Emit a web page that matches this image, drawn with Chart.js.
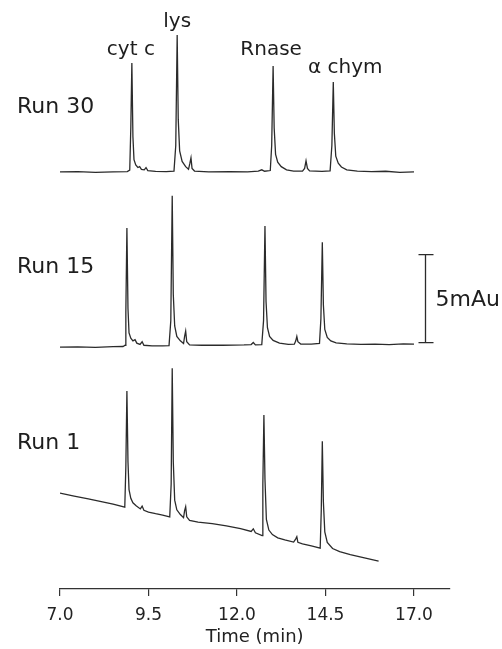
<!DOCTYPE html>
<html><head><meta charset="utf-8">
<script src="https://cdn.jsdelivr.net/npm/chart.js@4/dist/chart.umd.min.js"></script>
<style>html,body{margin:0;padding:0;background:#fff;}canvas{display:block;}</style>
</head><body>
<canvas id="c" width="502" height="649" style="width:502px;height:649px"></canvas>
<script>
// ---- data (time in min, signal in mAu relative to each run's starting baseline) ----
const runNames = ['Run 30', 'Run 15', 'Run 1'];
const runOffsets = [23.7, 13.75, 5.45];   // vertical stacking offsets (mAu)

const run30Points = [
  [7.0,0.0],[7.5,0.02],[8.0,-0.02],[8.5,0.0],[8.9,0.02],[8.97,0.1],[9.0,2.5],[9.03,6.19],[9.06,2.0],[9.09,0.7],
  [9.14,0.4],[9.2,0.25],[9.25,0.3],[9.3,0.15],[9.38,0.12],[9.43,0.25],[9.48,0.08],[9.7,0.03],[10.0,0.02],[10.22,0.05],
  [10.27,1.5],[10.31,7.78],[10.34,3.0],[10.38,1.2],[10.45,0.6],[10.55,0.3],[10.63,0.15],[10.67,0.5],[10.7,0.8],[10.73,0.2],
  [10.8,0.05],[11.2,0.0],[11.8,0.02],[12.3,0.0],[12.6,0.05],[12.7,0.12],[12.78,0.04],[12.94,0.08],[12.98,1.5],[13.02,6.02],
  [13.05,2.5],[13.09,1.0],[13.15,0.55],[13.25,0.3],[13.4,0.12],[13.6,0.05],[13.85,0.05],[13.91,0.2],[13.95,0.63],[13.99,0.2],
  [14.05,0.06],[14.4,0.03],[14.63,0.06],[14.68,1.5],[14.72,5.11],[14.75,2.2],[14.79,0.9],[14.86,0.5],[14.95,0.28],[15.1,0.12],
  [15.4,0.05],[15.8,0.02],[16.2,0.04],[16.6,-0.02],[17.0,0.0]
];
const run15Points = [
  [7.0,0.0],[7.5,0.01],[8.0,-0.02],[8.5,0.02],[8.78,0.03],[8.84,0.1],[8.86,2.0],[8.89,6.76],[8.92,2.2],[8.95,0.8],
  [9.0,0.5],[9.06,0.35],[9.12,0.42],[9.17,0.22],[9.26,0.15],[9.32,0.3],[9.37,0.1],[9.6,0.07],[9.9,0.06],[10.08,0.08],
  [10.13,1.5],[10.17,8.6],[10.2,3.0],[10.24,1.2],[10.3,0.6],[10.4,0.35],[10.49,0.2],[10.52,0.6],[10.55,0.9],[10.58,0.3],
  [10.66,0.12],[11.0,0.1],[11.6,0.1],[12.2,0.12],[12.4,0.14],[12.46,0.26],[12.52,0.12],[12.7,0.14],[12.75,1.5],[12.79,6.87],
  [12.82,2.6],[12.86,1.1],[12.92,0.6],[13.02,0.38],[13.2,0.22],[13.45,0.15],[13.62,0.16],[13.66,0.35],[13.69,0.6],[13.72,0.3],
  [13.8,0.17],[14.1,0.16],[14.33,0.2],[14.37,1.6],[14.41,5.96],[14.44,2.4],[14.48,1.0],[14.55,0.55],[14.65,0.35],[14.8,0.24],
  [15.1,0.18],[15.5,0.15],[15.9,0.17],[16.3,0.14],[16.7,0.18],[17.0,0.17]
];
const run1Points = [
  [7.0,0.0],[7.4,-0.17],[7.8,-0.33],[8.2,-0.5],[8.5,-0.63],[8.83,-0.8],[8.86,1.5],[8.89,5.8],[8.92,1.8],[8.95,0.2],
  [9.0,-0.3],[9.06,-0.55],[9.15,-0.72],[9.27,-0.9],[9.32,-0.74],[9.37,-0.98],[9.5,-1.08],[9.7,-1.17],[9.9,-1.25],[10.1,-1.35],
  [10.14,0.5],[10.17,7.1],[10.2,1.8],[10.24,-0.4],[10.3,-0.95],[10.4,-1.22],[10.49,-1.4],[10.52,-1.0],[10.55,-0.78],[10.58,-1.35],
  [10.66,-1.55],[10.9,-1.65],[11.3,-1.74],[11.7,-1.86],[12.1,-2.02],[12.4,-2.18],[12.46,-2.03],[12.52,-2.26],[12.71,-2.42],[12.73,0.5],
  [12.76,4.43],[12.79,0.8],[12.83,-1.5],[12.9,-2.1],[13.0,-2.36],[13.15,-2.54],[13.35,-2.66],[13.6,-2.78],[13.66,-2.6],[13.69,-2.48],
  [13.72,-2.8],[13.85,-2.88],[14.1,-3.0],[14.35,-3.13],[14.38,-1.0],[14.41,2.95],[14.44,-0.5],[14.48,-2.2],[14.55,-2.8],[14.7,-3.15],
  [14.9,-3.33],[15.2,-3.5],[15.6,-3.68],[16.0,-3.86]
];

const peakNames = ['cyt c', 'lys', 'Rnase', '\u03b1 chym'];
const peakTimes = [9.03, 10.31, 13.02, 14.72];     // peak positions in Run 30
const xTickValues = [7.0, 9.5, 12.0, 14.5, 17.0];
const xTitle = 'Time (min)';
const scaleBarValue = 5;       // mAu
const scaleBarLabel = '5mAu';

// ---- build chart ----
const FONT = '"DejaVu Sans", sans-serif';
const runs = [run30Points, run15Points, run1Points];
const datasets = runs.map((pts, i) => ({
  label: runNames[i],
  data: pts.map(p => ({x: p[0], y: p[1] + runOffsets[i]})),
  borderColor: '#2b2b2b',
  borderWidth: 1.3,
  pointRadius: 0,
  tension: 0,
  fill: false
}));

const layoutCfg = {
  runLabelY: [27.05, 17.95, 7.95],   // label baseline positions (plot units)
  runLabelX: 17,
  peakDx: [-1, 0, -2, 12],
  peakDy: [8, 8, 11, 9],
  barX: 17.3, barFrom: 14.0, barLabelY: 16.08
};

const annot = {
  id: 'annot',
  afterDatasetsDraw(chart) {
    const {ctx, scales: {x, y}} = chart;
    ctx.save();
    ctx.fillStyle = '#1e1e1e';
    ctx.strokeStyle = '#2b2b2b';
    ctx.textBaseline = 'alphabetic';
    ctx.font = '22px ' + FONT;
    ctx.textAlign = 'left';
    runNames.forEach((n, i) => ctx.fillText(n, layoutCfg.runLabelX, y.getPixelForValue(layoutCfg.runLabelY[i])));
    ctx.font = '20px ' + FONT;
    ctx.textAlign = 'center';
    peakNames.forEach((n, i) => {
      const t = peakTimes[i];
      let top = -Infinity;
      run30Points.forEach(p => { if (Math.abs(p[0] - t) < 0.05) top = Math.max(top, p[1]); });
      const px = x.getPixelForValue(t) + layoutCfg.peakDx[i];
      const py = y.getPixelForValue(top + runOffsets[0]) - layoutCfg.peakDy[i];
      ctx.fillText(n, px, py);
    });
    const bx = Math.round(x.getPixelForValue(layoutCfg.barX)) + 0.5;
    const y0 = y.getPixelForValue(layoutCfg.barFrom);
    const y1 = y.getPixelForValue(layoutCfg.barFrom + scaleBarValue);
    ctx.lineWidth = 1.3;
    ctx.beginPath();
    ctx.moveTo(bx, y0); ctx.lineTo(bx, y1);
    ctx.moveTo(bx - 7, y0); ctx.lineTo(bx + 8, y0);
    ctx.moveTo(bx - 7, y1); ctx.lineTo(bx + 8, y1);
    ctx.stroke();
    ctx.font = '22px ' + FONT;
    ctx.textAlign = 'left';
    ctx.fillText(scaleBarLabel, bx + 10, y.getPixelForValue(layoutCfg.barLabelY));
    ctx.restore();
  }
};

new Chart(document.getElementById('c'), {
  type: 'line',
  data: {datasets},
  options: {
    responsive: false,
    animation: false,
    events: [],
    layout: {padding: {left: 60, right: 52.6, top: 0, bottom: 0}},
    plugins: {legend: {display: false}, tooltip: {enabled: false}},
    scales: {
      x: {
        type: 'linear', min: 7, max: 18,
        afterBuildTicks: s => { s.ticks = xTickValues.map(v => ({value: v})); },
        afterFit: s => { s.height = 60; },
        ticks: {callback: v => Number(v).toFixed(1), color: '#222', font: {family: FONT, size: 17}, padding: 9, maxRotation: 0, autoSkip: false},
        grid: {display: true, drawOnChartArea: false, drawTicks: true, tickLength: 7, color: '#333', lineWidth: 1.2},
        border: {display: true, color: '#333', width: 1.3},
        title: {display: true, text: xTitle, color: '#222', font: {family: FONT, size: 18}, padding: {top: 0, bottom: 1}}
      },
      y: {display: false, min: 0, max: 33.47}
    }
  },
  plugins: [annot]
});
</script>
</body></html>
